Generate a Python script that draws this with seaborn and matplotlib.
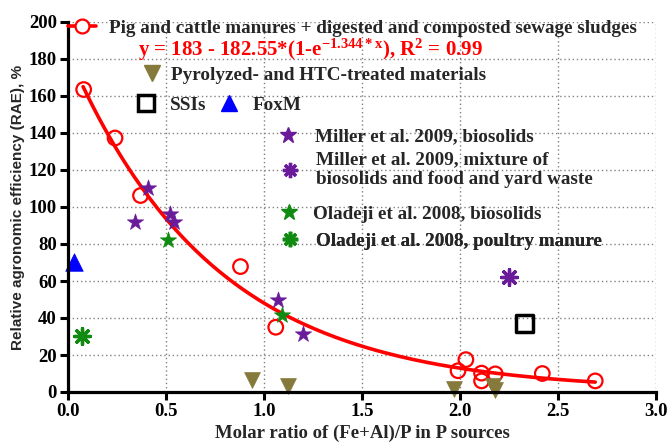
import numpy as np
import pandas as pd
import matplotlib
matplotlib.use("Agg")
import matplotlib.pyplot as plt
from matplotlib.lines import Line2D
import seaborn as sns

# ---------------- data ----------------
pig_x = [0.08, 0.24, 0.37, 0.88, 1.06, 1.99, 2.03, 2.11, 2.11, 2.18, 2.42, 2.69]
pig_y = [163.5, 137.3, 106.2, 67.8, 35.0, 11.5, 17.5, 10.2, 6.0, 9.8, 10.0, 6.0]

pyro_x = [0.94, 1.12, 1.97, 2.17, 2.18]
pyro_y = [6.5, 3.5, 1.8, 3.0, 1.0]

ssi_x = [2.33]
ssi_y = [37.0]

foxm_x = [0.03]
foxm_y = [70.5]

miller_bio_x = [0.34, 0.41, 0.52, 0.54, 1.07, 1.20]
miller_bio_y = [92.0, 110.4, 96.4, 92.0, 49.5, 31.2]

miller_mix_x = [2.25]
miller_mix_y = [62.0]

olad_bio_x = [0.51, 1.09]
olad_bio_y = [82.2, 41.5]

olad_poultry_x = [0.07]
olad_poultry_y = [30.3]

# fitted model parameters (from the equation shown on the chart)
fit_a, fit_b, fit_k = 183.0, 182.55, 1.344
fit_range = [0.077, 2.69]

x_ticks = [0.0, 0.5, 1.0, 1.5, 2.0, 2.5, 3.0]
y_ticks = [0, 20, 40, 60, 80, 100, 120, 140, 160, 180, 200]

lab_pig = "Pig and cattle manures + digested and composted sewage sludges"
lab_eq = r"y = 183 - 182.55*(1-e$^{-1.344*x}$), R$^{2}$ = 0.99"
lab_pyro = "Pyrolyzed- and HTC-treated materials"
lab_ssi = "SSIs"
lab_foxm = "FoxM"
lab_mb = "Miller et al. 2009, biosolids"
lab_mm = "Miller et al. 2009, mixture of\nbiosolids and food and yard waste"
lab_ob = "Oladeji et al. 2008, biosolids"
lab_op = "Oladeji et al. 2008, poultry manure"

# ---------------- style ----------------
sns.set_style("white")
plt.rcParams['font.family'] = ['Liberation Serif', 'DejaVu Serif']
plt.rcParams['font.weight'] = 'bold'
plt.rcParams['mathtext.fontset'] = 'custom'
plt.rcParams['mathtext.rm'] = 'Liberation Serif:bold'
plt.rcParams['mathtext.it'] = 'Liberation Serif:bold'
plt.rcParams['mathtext.bf'] = 'Liberation Serif:bold'

RED = "#ff0000"
OLIVE = "#857a3c"
PURPLE = "#6a1b9a"
GREEN = "#118a11"
BLUE = "#0000ff"

W, H = 667, 442
fig = plt.figure(figsize=(W / 100, H / 100), dpi=100)
AX_L, AX_R, AX_T, AX_B = 68, 656, 22, 392
ax = fig.add_axes([AX_L / W, 1 - AX_B / H, (AX_R - AX_L) / W, (AX_B - AX_T) / H])

# fit curve
xf = np.linspace(fit_range[0], fit_range[1], 200)
yf = fit_a - fit_b * (1 - np.exp(-fit_k * xf))
sns.lineplot(x=xf, y=yf, ax=ax, color=RED, linewidth=2.6, zorder=3)

def scat(xs, ys, **kw):
    df = pd.DataFrame({"x": xs, "y": ys})
    sns.scatterplot(data=df, x="x", y="y", ax=ax, clip_on=False, legend=False, **kw)

scat(pig_x, pig_y, marker="o", s=110, facecolor="none", edgecolor=RED, linewidth=1.6, zorder=4)
scat(pyro_x, pyro_y, marker="v", s=130, color=OLIVE, edgecolor=OLIVE, linewidth=0.5, zorder=5)
scat(ssi_x, ssi_y, marker="s", s=150, facecolor="none", edgecolor="black", linewidth=2.5, zorder=5)
scat(foxm_x, foxm_y, marker="^", s=160, color=BLUE, edgecolor=BLUE, linewidth=0.5, zorder=5)
scat(miller_bio_x, miller_bio_y, marker="*", s=150, color=PURPLE, edgecolor=PURPLE, linewidth=0.5, zorder=5)
scat(miller_mix_x, miller_mix_y, marker=(8, 2, 0), s=130, color=PURPLE, edgecolor=PURPLE, linewidth=2.4, zorder=5)
scat(olad_bio_x, olad_bio_y, marker="*", s=150, color=GREEN, edgecolor=GREEN, linewidth=0.5, zorder=5)
scat(olad_poultry_x, olad_poultry_y, marker=(8, 2, 0), s=130, color=GREEN, edgecolor=GREEN, linewidth=2.4, zorder=5)

ax.set_xlim(0, 3.0)
ax.set_ylim(0, 200)
ax.set_xticks(x_ticks)
ax.set_xticklabels([f"{v:.1f}" for v in x_ticks])
ax.set_yticks(y_ticks)
ax.set_yticklabels([str(v) for v in y_ticks])
ax.tick_params(axis="both", direction="out", length=6, width=2.2, labelsize=13.5, pad=2,
               bottom=True, left=True, colors="black")
for lab in ax.get_xticklabels() + ax.get_yticklabels():
    lab.set_fontweight("bold")

ax.grid(True, linestyle=(0, (1, 2)), color="#808080", linewidth=1.0)
ax.set_axisbelow(True)
for sp in ["top", "right"]:
    ax.spines[sp].set_visible(False)
for sp in ["left", "bottom"]:
    ax.spines[sp].set_linewidth(2.3)
    ax.spines[sp].set_color("black")
    ax.spines[sp].set_zorder(6)

ax.set_xlabel("Molar ratio of (Fe+Al)/P in P sources", fontsize=13.5, fontweight="bold", labelpad=3)
ax.set_ylabel("Relative agronomic efficiency (RAE), %", fontsize=11, fontweight="bold",
              family=["Liberation Sans", "DejaVu Sans"], labelpad=3)

# ---------------- legends ----------------
FS = 13.8
FS_PX = FS * 100 / 72

def px2ax(px, py):
    return (px - AX_L) / (AX_R - AX_L), (AX_B - py) / (AX_B - AX_T)

def add_leg(handles, labels, cx, cy, tx, hl_px=16, ncol=1, colsp_px=16):
    anchor_x = cx - hl_px / 2
    pad = (tx - (anchor_x + hl_px)) / FS_PX
    fx, fy = px2ax(anchor_x, cy)
    lg = ax.legend(handles, labels, loc="center left", bbox_to_anchor=(fx, fy),
                   bbox_transform=ax.transAxes, frameon=False, borderpad=0,
                   borderaxespad=0, handlelength=hl_px / FS_PX, handletextpad=pad, ncol=ncol,
                   columnspacing=colsp_px / FS_PX,
                   prop={"family": "Liberation Serif", "weight": "bold", "size": FS})
    lg.set_zorder(7)
    ax.add_artist(lg)
    return lg

h_pig = Line2D([], [], color=RED, linewidth=2.6, marker="o", markersize=10,
               markerfacecolor="white", markeredgecolor=RED, markeredgewidth=1.6)
add_leg([h_pig], [lab_pig], 82, 28, 109, hl_px=28)

fx_eq, fy_eq = px2ax(138, 50)
ax.text(fx_eq, fy_eq, lab_eq, transform=ax.transAxes, color=RED, fontsize=15,
        fontweight="bold", va="center", ha="left", zorder=7)

h_pyro = Line2D([], [], linestyle="none", marker="v", markersize=11, color=OLIVE)
add_leg([h_pyro], [lab_pyro], 152, 75, 171)

h_ssi = Line2D([], [], linestyle="none", marker="s", markersize=11, markerfacecolor="none",
               markeredgecolor="black", markeredgewidth=2.5)
h_fox = Line2D([], [], linestyle="none", marker="^", markersize=12, color=BLUE)
add_leg([h_ssi, h_fox], [lab_ssi, lab_foxm], 146, 105, 170, ncol=2, colsp_px=14)

h_mb = Line2D([], [], linestyle="none", marker="*", markersize=12, color=PURPLE)
add_leg([h_mb], [lab_mb], 288, 137, 315)

h_mm = Line2D([], [], linestyle="none", marker=(8, 2, 0), markersize=11, color=PURPLE,
              markeredgewidth=2.4)
add_leg([h_mm], [lab_mm], 290, 170, 316)

h_ob = Line2D([], [], linestyle="none", marker="*", markersize=12, color=GREEN)
add_leg([h_ob], [lab_ob], 289, 214, 313)

h_op = Line2D([], [], linestyle="none", marker=(8, 2, 0), markersize=11, color=GREEN,
              markeredgewidth=2.4)
add_leg([h_op], [lab_op], 290, 241, 316)

fig.savefig("out.png", dpi=100)
